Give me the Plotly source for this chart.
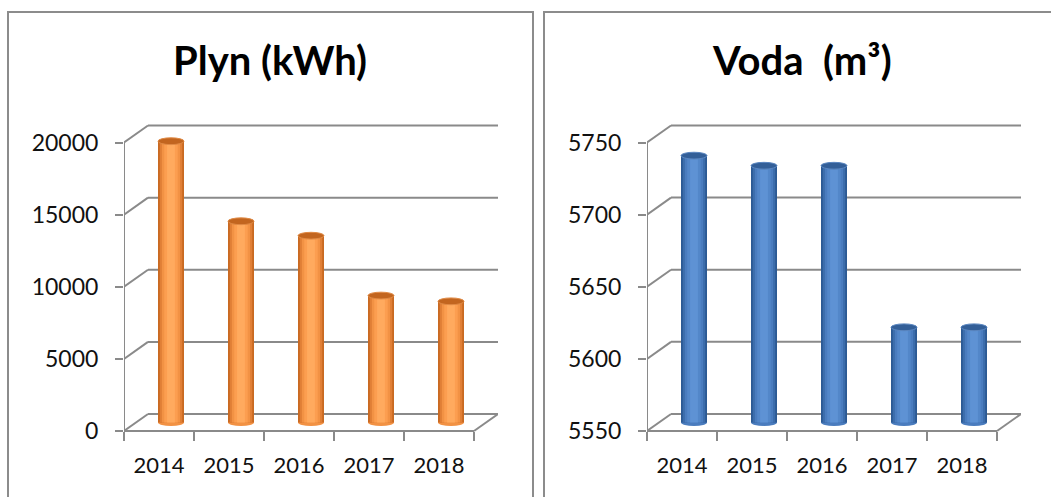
import plotly.graph_objects as go

# ---------------- data ----------------
years = ["2014", "2015", "2016", "2017", "2018"]
gas_kwh = [19500, 13950, 12950, 8800, 8400]
water_m3 = [5735, 5728, 5728, 5616, 5616]
gas_ticks = [0, 5000, 10000, 15000, 20000]
water_ticks = [5550, 5600, 5650, 5700, 5750]
titles = ["Plyn (kWh)", "Voda\u00a0 (m³)"]

# ---------------- style / geometry ----------------
W = 1051
H = 497
CAT_PX = 70.0          # pixels per category
DEPTH_X = 24.0 / CAT_PX  # depth offset in category units
DEPTH_PX = 17.0        # depth offset in pixels (vertical)
BAR_W = 26.0 / CAT_PX
FRONT_BOT_PX = 431.0
FRONT_TOP_PX = 142.5
PLOT_TOP_PX = 118.0
PLOT_BOT_PX = 437.0
GRID_COL = "#8a8a8a"
FONT = "Lato"

orange_layers = [(1.0, "#c96a22"), (0.86, "#e07f36"), (0.70, "#f29244"),
                 (0.52, "#fc9e50"), (0.30, "#ffaa5e")]
blue_layers = [(1.0, "#2c5a94"), (0.86, "#3c6dab"), (0.70, "#4a7cbe"),
               (0.52, "#5387c9"), (0.30, "#5e92d4")]
orange_top = ("#c2651f", "#e08a45")
blue_top = ("#335f98", "#5a86c0")

panels = [
    dict(vals=gas_kwh, ticks=gas_ticks, left_px=124.0, layers=orange_layers,
         top=orange_top, center_px=270.0),
    dict(vals=water_m3, ticks=water_ticks, left_px=647.0, layers=blue_layers,
         top=blue_top, center_px=802.0),
]

fig = go.Figure()
shapes = []
annotations = []

ydom = [1 - PLOT_BOT_PX / H, 1 - PLOT_TOP_PX / H]
xaxis_pos = 1 - FRONT_BOT_PX / H

for k, p in enumerate(panels):
    xa = "x" if k == 0 else "x2"
    ya = "y" if k == 0 else "y2"
    lo_v, hi_v = p["ticks"][0], p["ticks"][-1]
    scale = (FRONT_BOT_PX - FRONT_TOP_PX) / (hi_v - lo_v)  # px per unit
    r_lo = lo_v - (PLOT_BOT_PX - FRONT_BOT_PX) / scale
    r_hi = lo_v + (FRONT_BOT_PX - PLOT_TOP_PX) / scale
    dy = DEPTH_PX / scale          # depth offset in data units
    dym = dy / 2.0
    dxm = DEPTH_X / 2.0
    xr = [-0.5, len(years) - 0.5 + DEPTH_X]
    xdom = [p["left_px"] / W, (p["left_px"] + (xr[1] - xr[0]) * CAT_PX) / W]

    axis_x = dict(domain=xdom, range=xr, type="category", anchor="free",
                  position=xaxis_pos, showgrid=False, zeroline=False, showline=False,
                  automargin=False, fixedrange=True,
                  ticks="outside", tickson="boundaries", ticklen=9, tickwidth=2,
                  tickcolor=GRID_COL, ticklabelstandoff=19,
                  tickfont=dict(family=FONT, size=22, color="#111111"))
    axis_y = dict(domain=ydom, range=[r_lo, r_hi], anchor=xa, showgrid=False,
                  zeroline=False, showline=False, automargin=False, fixedrange=True,
                  ticks="outside", ticklen=8,
                  tickwidth=2, tickcolor=GRID_COL, tickvals=p["ticks"],
                  ticktext=[str(t) for t in p["ticks"]], ticklabelstandoff=12,
                  tickfont=dict(family=FONT, size=23, color="#111111"))
    if k == 0:
        fig.update_layout(xaxis=axis_x, yaxis=axis_y)
    else:
        fig.update_layout(xaxis2=axis_x, yaxis2=axis_y)

    # cylinder bodies (layers give the rounded shading)
    for frac, col in p["layers"]:
        w = BAR_W * frac
        fig.add_trace(go.Bar(x=years, y=[v - lo_v for v in p["vals"]],
                             base=lo_v + dym, width=w, offset=dxm - w / 2,
                             marker=dict(color=col, line=dict(width=0)),
                             xaxis=xa, yaxis=ya, showlegend=False, hoverinfo="skip"))

    eh = 3.4 / scale
    for i, v in enumerate(p["vals"]):
        cx = i + dxm
        # bottom rounded cap
        shapes.append(dict(type="circle", xref=xa, yref=ya, layer="between",
                           x0=cx - BAR_W / 2, x1=cx + BAR_W / 2,
                           y0=lo_v + dym - eh, y1=lo_v + dym + eh,
                           fillcolor=p["layers"][2][1], line=dict(width=0)))
        # top cap
        shapes.append(dict(type="circle", xref=xa, yref=ya, layer="above",
                           x0=cx - BAR_W / 2, x1=cx + BAR_W / 2,
                           y0=v + dym - eh, y1=v + dym + eh,
                           fillcolor=p["top"][0], line=dict(width=1, color=p["top"][1])))

    n = len(years)
    line = dict(color=GRID_COL, width=2)
    # back wall gridlines + diagonal connectors
    for t in p["ticks"]:
        shapes.append(dict(type="line", xref=xa, yref=ya, layer="below",
                           x0=-0.5, y0=t, x1=-0.5 + DEPTH_X, y1=t + dy, line=line))
        shapes.append(dict(type="line", xref=xa, yref=ya, layer="below",
                           x0=-0.5 + DEPTH_X, y0=t + dy, x1=n - 0.5 + DEPTH_X, y1=t + dy,
                           line=line))
    # front vertical axis
    shapes.append(dict(type="line", xref=xa, yref=ya, layer="below",
                       x0=-0.5, y0=lo_v, x1=-0.5, y1=hi_v, line=line))
    # floor front edge and right side
    shapes.append(dict(type="line", xref=xa, yref=ya, layer="below",
                       x0=-0.5, y0=lo_v, x1=n - 0.5, y1=lo_v, line=line))
    shapes.append(dict(type="line", xref=xa, yref=ya, layer="below",
                       x0=n - 0.5, y0=lo_v, x1=n - 0.5 + DEPTH_X, y1=lo_v + dy, line=line))

    annotations.append(dict(text=titles[k], xref="paper", yref="paper",
                            x=p["center_px"] / W, y=1 - 60.0 / H, xanchor="center",
                            yanchor="middle", showarrow=False,
                            font=dict(family=FONT, size=40, color="#000000", weight="bold")))

# chart panel borders
shapes.append(dict(type="rect", xref="paper", yref="paper", layer="below",
                   x0=8 / W, x1=533 / W, y0=-0.05, y1=1 - 12.0 / H,
                   line=dict(color="#8c8c8c", width=2), fillcolor="rgba(0,0,0,0)"))
shapes.append(dict(type="rect", xref="paper", yref="paper", layer="below",
                   x0=544 / W, x1=1.05, y0=-0.05, y1=1 - 12.0 / H,
                   line=dict(color="#8c8c8c", width=2), fillcolor="rgba(0,0,0,0)"))

fig.update_layout(template="none", width=W, height=H,
                  margin=dict(l=0, r=0, t=0, b=0, pad=0, autoexpand=False),
                  paper_bgcolor="white", plot_bgcolor="rgba(0,0,0,0)",
                  barmode="overlay", shapes=shapes, annotations=annotations,
                  showlegend=False)

fig.write_html("out.html", config={"displayModeBar": False, "staticPlot": True},
               post_script="document.body.style.margin='0';document.body.style.overflow='hidden';")
